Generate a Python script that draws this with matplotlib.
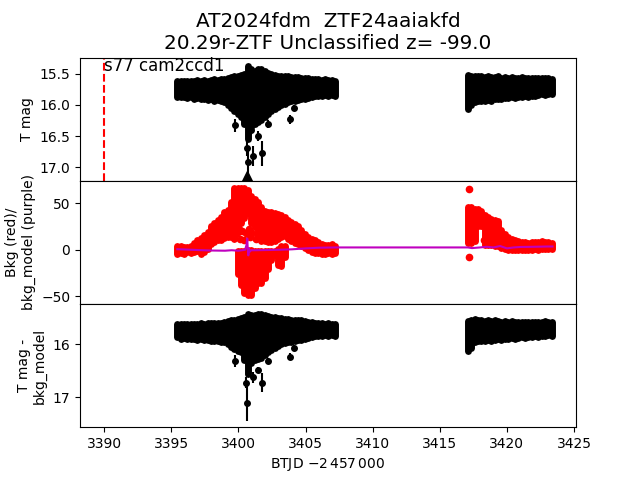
import matplotlib
matplotlib.use('Agg')
import matplotlib.pyplot as plt

# ---------------- data ----------------
# sector 1 time grid (BTJD - 2457000)
t1 = [3395.45, 3395.70, 3395.95, 3396.20, 3396.45, 3396.70, 3396.95, 3397.20,
      3397.45, 3397.70, 3397.95, 3398.20, 3398.45, 3398.70, 3398.95, 3399.20,
      3399.45, 3399.70, 3399.95, 3400.20, 3400.45, 3400.70, 3400.95, 3401.20,
      3401.45, 3401.70, 3401.95, 3402.20, 3402.45, 3402.70, 3402.95, 3403.20,
      3403.45, 3403.70, 3403.95, 3404.20, 3404.45, 3404.70, 3404.95, 3405.20,
      3405.45, 3405.70, 3405.95, 3406.20, 3406.45, 3406.70, 3406.95, 3407.20]
# second orbit time grid
t2 = [3417.10, 3417.35, 3417.60, 3417.85, 3418.10, 3418.35, 3418.60, 3418.85,
      3419.10, 3419.35, 3419.60, 3419.85, 3420.10, 3420.35, 3420.60, 3420.85,
      3421.10, 3421.35, 3421.60, 3421.85, 3422.10, 3422.35, 3422.60, 3422.85,
      3423.10, 3423.35]

# T mag scatter range (bright / faint edge)
tmag_bright1 = [15.62, 15.61, 15.62, 15.61, 15.62, 15.61, 15.60, 15.61,
                15.60, 15.61, 15.60, 15.59, 15.60, 15.59, 15.58, 15.57,
                15.55, 15.54, 15.53, 15.52, 15.50, 15.38, 15.43, 15.45,
                15.43, 15.42, 15.45, 15.48, 15.51, 15.52, 15.53, 15.53,
                15.54, 15.54, 15.55, 15.55, 15.55, 15.56, 15.56, 15.57,
                15.58, 15.59, 15.59, 15.60, 15.59, 15.60, 15.60, 15.61]
tmag_faint1 = [15.87, 15.88, 15.87, 15.89, 15.88, 15.90, 15.89, 15.91,
               15.90, 15.92, 15.91, 15.93, 15.92, 15.94, 15.95, 16.00,
               16.05, 16.10, 16.15, 16.20, 16.30, 16.55, 16.35, 16.30,
               16.28, 16.25, 16.20, 16.15, 16.10, 16.07, 16.03, 16.00,
               15.98, 15.96, 15.94, 15.93, 15.92, 15.91, 15.90, 15.89,
               15.87, 15.86, 15.85, 15.85, 15.84, 15.85, 15.84, 15.85]
tmag_bright2 = [15.52, 15.54, 15.53, 15.54, 15.53, 15.55, 15.54, 15.55,
                15.55, 15.54, 15.56, 15.55, 15.56, 15.55, 15.56, 15.56,
                15.55, 15.56, 15.57, 15.56, 15.57, 15.56, 15.57, 15.56,
                15.57, 15.58]
tmag_faint2 = [16.07, 16.00, 15.95, 15.94, 15.93, 15.94, 15.92, 15.93,
               15.91, 15.90, 15.90, 15.89, 15.89, 15.88, 15.89, 15.87,
               15.88, 15.86, 15.87, 15.85, 15.86, 15.84, 15.83, 15.84,
               15.83, 15.82]
# individual faint T mag points with error bars
tmag_out_t = [3399.75, 3400.62, 3400.70, 3400.95, 3401.07, 3401.49, 3401.74,
              3402.24, 3403.85, 3404.17]
tmag_out = [16.33, 16.70, 16.92, 16.40, 16.82, 16.50, 16.78, 16.31, 16.23, 16.05]
tmag_out_err = [0.10, 0.12, 0.26, 0.08, 0.16, 0.08, 0.20, 0.06, 0.07, 0.05]
# clipped point marker
clip_t = [3400.65]
clip_mag = [17.14]

# background (red) scatter range
bkg_hi1 = [4, 4, 3, 3, 4, 7, 11, 13, 16, 19, 26, 29, 32, 35, 40, 43,
           51, 66, 66, 66, 66, 64, 58, 54, 51, 46, 42, 41, 40, 39, 38, 37,
           35, 32, 30, 28, 25, 21, 17, 14, 12, 10, 8, 6, 5, 5, 6, 4]
bkg_lo1 = [-4, -3, -4, -2, -3, -2, -1, -4, -2, 1, 6, 8, 10, 11, 13, 14,
           14, 12, 24, 29, 34, 39, 29, 24, 14, 9, 9, 8, 8, 9, 12, 14,
           15, 12, 9, 7, 6, 4, 2, 0, -2, -3, -3, -4, -4, -3, -4, -3]
bkg_hi2 = [46, 46, 44, 44, 42, 37, 35, 33, 32, 31, 21, 17, 14, 12, 11, 9,
           8, 8, 7, 8, 8, 8, 9, 8, 8, 7]
bkg_lo2 = [7, 7, 9, 26, 26, 5, 5, 5, 4, 4, 2, 1, 0, 0, 0, 0,
           0, 0, 0, 0, 1, 0, 1, 1, 1, 1]
# lower lobe of the background during the dip
lobe_t = [3399.95, 3400.20, 3400.45, 3400.70, 3400.95, 3401.20, 3401.45,
          3401.70, 3401.95, 3402.20, 3402.45, 3402.70, 3402.95, 3403.20, 3403.45]
lobe_hi = [-1, -1, -1, 0, 0, -1, -1, -1, -1, -1, -1, -1, 1, 4, 4]
lobe_lo = [-26, -38, -46, -48, -48, -41, -36, -36, -30, -21, -11, -6, -16, -17, -8]
# scattered background points
bkg_pt_t = [3399.80, 3399.90, 3400.05, 3400.15, 3400.30, 3400.40, 3400.55,
            3400.80, 3400.90, 3401.05, 3401.30, 3401.40, 3417.20, 3417.15, 3418.28]
bkg_pt_v = [28, 18, 22, 12, 20, 10, 18, 22, 14, 18, 12, 25, 65, -7.5, 10.5]

# background model (purple)
model_t = [3395.45, 3396.0, 3397.0, 3398.0, 3399.0, 3399.5, 3400.0, 3400.5,
           3400.60, 3400.66, 3400.70, 3400.74, 3400.78, 3400.85, 3400.95,
           3401.2, 3402.0, 3403.0, 3404.0, 3405.0, 3406.0, 3407.2,
           3417.1, 3417.4, 3418.0, 3418.5, 3419.0, 3419.5, 3420.0, 3420.5,
           3421.0, 3422.0, 3423.0, 3423.4]
model_v = [0.6, 0.3, -0.3, -0.8, -1.0, -0.5, -1.0, 0.0,
           5.0, 12.0, 0.0, -6.0, 1.5, -2.0, -0.5,
           -0.5, -0.3, 0.0, 0.5, 1.5, 2.2, 2.5,
           2.5, 1.8, 2.5, 3.2, 2.5, 4.0, 1.5, 2.5,
           3.0, 3.2, 3.5, 3.5]

# T mag - bkg_model scatter range
dmag_bright1 = [15.62, 15.62, 15.61, 15.62, 15.61, 15.62, 15.61, 15.60,
                15.61, 15.60, 15.60, 15.59, 15.60, 15.59, 15.58, 15.56,
                15.55, 15.54, 15.53, 15.51, 15.48, 15.43, 15.45, 15.44,
                15.43, 15.42, 15.44, 15.46, 15.48, 15.49, 15.50, 15.51,
                15.52, 15.53, 15.54, 15.54, 15.55, 15.55, 15.56, 15.57,
                15.58, 15.59, 15.60, 15.60, 15.61, 15.60, 15.61, 15.61]
dmag_faint1 = [15.87, 15.89, 15.88, 15.90, 15.89, 15.90, 15.91, 15.90,
               15.92, 15.91, 15.93, 15.94, 15.93, 15.95, 15.96, 16.00,
               16.05, 16.08, 16.12, 16.15, 16.30, 16.55, 16.35, 16.30,
               16.28, 16.25, 16.20, 16.15, 16.10, 16.06, 16.03, 16.00,
               15.98, 15.96, 15.95, 15.93, 15.92, 15.91, 15.90, 15.88,
               15.86, 15.85, 15.84, 15.84, 15.83, 15.84, 15.83, 15.84]
dmag_bright2 = [15.56, 15.55, 15.53, 15.55, 15.54, 15.56, 15.55, 15.56,
                15.55, 15.56, 15.57, 15.56, 15.57, 15.56, 15.57, 15.58,
                15.57, 15.58, 15.57, 15.58, 15.57, 15.58, 15.57, 15.56,
                15.57, 15.58]
dmag_faint2 = [16.12, 16.06, 15.96, 15.94, 15.93, 15.94, 15.92, 15.93,
               15.91, 15.90, 15.91, 15.89, 15.90, 15.88, 15.89, 15.88,
               15.87, 15.88, 15.86, 15.87, 15.85, 15.86, 15.84, 15.85,
               15.83, 15.84]
dmag_out_t = [3399.75, 3400.60, 3400.67, 3401.07, 3401.49, 3401.74, 3402.24,
              3403.85, 3404.17]
dmag_out = [16.31, 16.72, 17.11, 16.62, 16.48, 16.72, 16.31, 16.23, 16.07]
dmag_out_err = [0.11, 0.10, 0.33, 0.10, 0.06, 0.18, 0.06, 0.06, 0.05]

sector_x = 3390.0
sector_label = "s77 cam2ccd1"
title = "AT2024fdm  ZTF24aaiakfd\n20.29r-ZTF Unclassified z= -99.0"

# ---------------- plotting ----------------
fig, (ax1, ax2, ax3) = plt.subplots(3, 1, sharex=True, figsize=(6.4, 4.8), dpi=100)
fig.subplots_adjust(hspace=0)

BAND_LW = 5


def band(ax, t, hi, lo, color):
    ax.vlines(t, lo, hi, colors=color, linewidth=BAND_LW, capstyle='round')


# top panel
band(ax1, t1, tmag_bright1, tmag_faint1, 'k')
band(ax1, t2, tmag_bright2, tmag_faint2, 'k')
ax1.errorbar(tmag_out_t, tmag_out, yerr=tmag_out_err, fmt='o', color='k', ms=4, lw=1.5)
ax1.plot(clip_t, clip_mag, '^', color='k', ms=7)
ax1.axvline(sector_x, color='r', ls='--', lw=1.5)
ax1.text(sector_x, 15.46, sector_label, fontsize=12)
ax1.set_ylim(17.22, 15.24)
ax1.set_yticks([15.5, 16.0, 16.5, 17.0])
ax1.set_ylabel("T mag")
ax1.set_title(title, fontsize='x-large')

# middle panel
band(ax2, t1, bkg_hi1, bkg_lo1, 'r')
band(ax2, t2, bkg_hi2, bkg_lo2, 'r')
band(ax2, lobe_t, lobe_hi, lobe_lo, 'r')
ax2.plot(bkg_pt_t, bkg_pt_v, 'o', color='r', ms=4.5)
ax2.plot(model_t, model_v, '-', color='m', lw=1.5)
ax2.set_ylim(-58.1, 73.9)
ax2.set_yticks([-50, 0, 50])
ax2.set_ylabel("Bkg (red)/\nbkg_model (purple)")

# bottom panel
band(ax3, t1, dmag_bright1, dmag_faint1, 'k')
band(ax3, t2, dmag_bright2, dmag_faint2, 'k')
ax3.errorbar(dmag_out_t, dmag_out, yerr=dmag_out_err, fmt='o', color='k', ms=4, lw=1.5)
ax3.set_ylim(17.56, 15.24)
ax3.set_yticks([16, 17])
ax3.set_ylabel("T mag -\nbkg_model")
ax3.set_xlabel(r"BTJD $-2\,457\,000$")

ax3.set_xlim(3388.2, 3425.15)
ax3.set_xticks([3390, 3395, 3400, 3405, 3410, 3415, 3420, 3425])
for ax in (ax1, ax2):
    ax.tick_params(axis='x', bottom=False, labelbottom=False)

fig.savefig("out.png", dpi=100)
